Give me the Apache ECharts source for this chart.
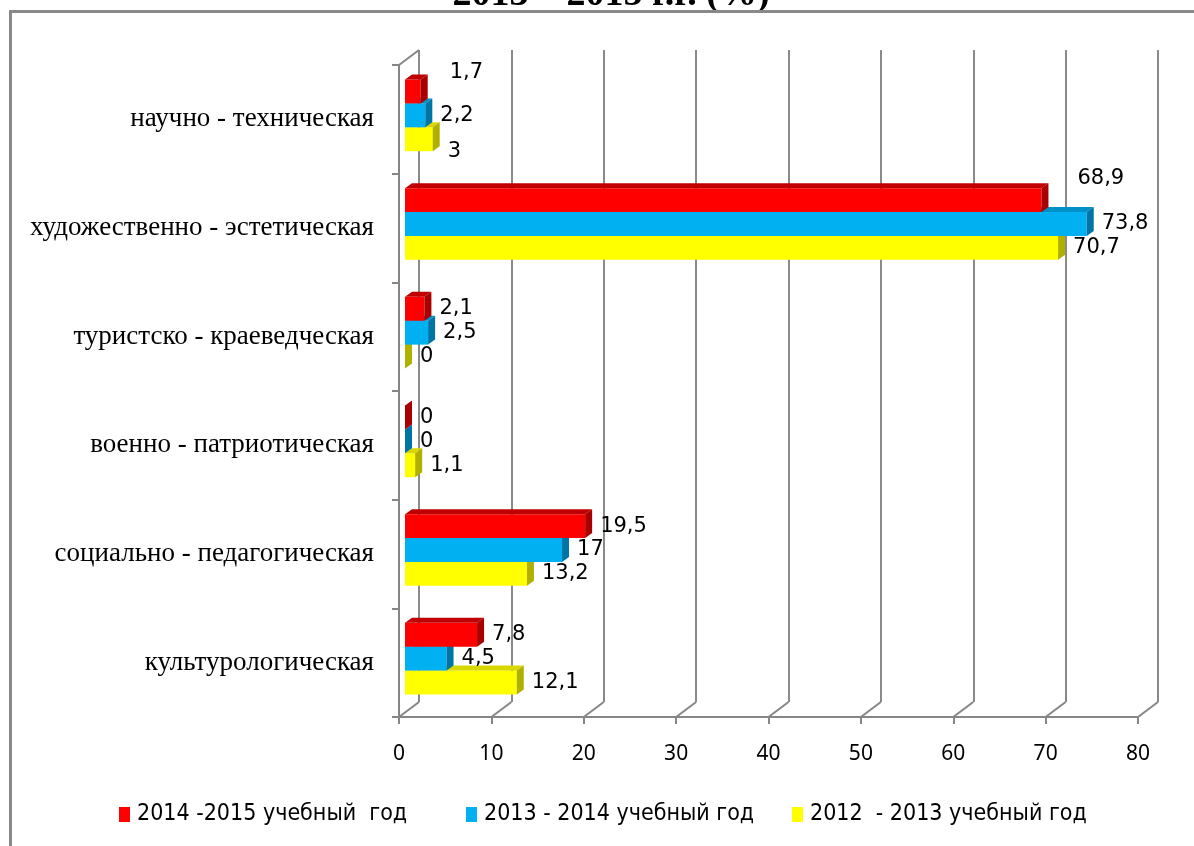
<!DOCTYPE html>
<html><head><meta charset="utf-8">
<script src="https://cdn.jsdelivr.net/npm/echarts@6/dist/echarts.min.js"></script>
<style>html,body{margin:0;padding:0;background:#fff}#c{width:1194px;height:846px}</style>
</head><body><div id="c"></div>
<script>
// ---- data ----
var categories = ['научно - техническая','художественно - эстетическая','туристско - краеведческая','военно - патриотическая','социально - педагогическая','культурологическая'];
var seriesNames = ['2014 -2015 учебный  год','2013 - 2014 учебный год','2012  - 2013 учебный год'];
var vals2014 = [1.7, 68.9, 2.1, 0, 19.5, 7.8];
var vals2013 = [2.2, 73.8, 2.5, 0, 17, 4.5];
var vals2012 = [3, 70.7, 0, 1.1, 13.2, 12.1];
var xTicks = [0,10,20,30,40,50,60,70,80];
var titleText = '2013 – 2015 г.г. (%)';

// ---- styles ----
var faceColors = [
  {front:'#FF0000', top:'#C00000', side:'#A80000'},
  {front:'#00B0F0', top:'#0090C8', side:'#0075A5'},
  {front:'#FFFF00', top:'#D8D800', side:'#B0B000'}
];
var labelNudge = {'0_0':[14,-19], '2_0':[0,12], '0_1':[21,-22]};
var legendLefts = [119, 466, 792];
var DX = 7, DY = -5, SHIFTX = 6, SHIFTY = -4;
var gray = '#868686';
var legendFont = '"DejaVu Sans Condensed", "Liberation Sans Narrow", "Liberation Sans"';

function fmt(v){ return String(v).replace('.', ','); }

function barRender(sIdx){
  return function(params, api){
    var ci = api.value(0), v = api.value(1);
    var band = api.size([0,1])[1];
    var c = api.coord([0, ci]);
    var e = api.coord([v, ci]);
    var h = band*0.22;
    var x0 = c[0]+SHIFTX, x1 = e[0]+SHIFTX;
    var y0 = c[1] - 1.5*h + sIdx*h + SHIFTY;
    var col = faceColors[sIdx];
    var nk = labelNudge[sIdx+'_'+ci] || [0,0];
    return {type:'group', children:[
      {type:'rect', shape:{x:x0, y:y0, width:x1-x0, height:h}, style:{fill:col.front}},
      {type:'polygon', shape:{points:[[x0,y0],[x1,y0],[x1+DX,y0+DY],[x0+DX,y0+DY]]}, style:{fill:col.top}},
      {type:'polygon', shape:{points:[[x1,y0],[x1+DX,y0+DY],[x1+DX,y0+h+DY],[x1,y0+h]]}, style:{fill:col.side}},
      {type:'text', x:x1+DX+8+nk[0], y:y0+h/2+nk[1], style:{text:fmt(v), fill:'#000', font:'21px "DejaVu Sans"', verticalAlign:'middle', align:'left'}}
    ]};
  };
}

function floorRender(params, api){
  var p = api.coord([api.value(0), 0]);
  var cs = params.coordSys;
  var yb = cs.y + cs.height;
  return {type:'line', shape:{x1:p[0], y1:yb, x2:p[0]+20, y2:yb-15}, style:{stroke:gray, lineWidth:2}};
}

var allVals = [vals2014, vals2013, vals2012];
var series = [];
[2,1,0].forEach(function(s){
  series.push({
    type:'custom', name:seriesNames[s], xAxisIndex:0, yAxisIndex:0, z:10+(2-s),
    itemStyle:{color:faceColors[s].front},
    renderItem:barRender(s),
    data: allVals[s].map(function(v,i){return [i, v];}),
    encode:{x:1, y:0}
  });
});
series.push({type:'custom', name:'floor', xAxisIndex:0, yAxisIndex:0, z:3, silent:true,
  renderItem:floorRender, data:xTicks.map(function(t){return [t];}), encode:{x:0}});

var legends = seriesNames.map(function(n, i){
  return {data:[n], left:legendLefts[i], top:803, padding:0, itemWidth:11, itemHeight:15, itemGap:6, icon:'rect',
    textStyle:{fontFamily:legendFont, fontSize:23, color:'#000', padding:[0,0,0,2]}};
});

var chart = echarts.init(document.getElementById('c'), null, {renderer:'canvas'});
chart.setOption({
  animation:false,
  backgroundColor:'#fff',
  title:{text:titleText, left:606, textAlign:'center', top:-29,
    textStyle:{fontFamily:'Liberation Serif', fontWeight:'bold', fontSize:38, color:'#000'}},
  legend:legends,
  grid:[
    {left:399, right:56, top:65, bottom:129},
    {left:419, right:36, top:50, bottom:144}
  ],
  xAxis:[
    {type:'value', gridIndex:0, min:0, max:80, interval:10,
      axisLine:{show:true, lineStyle:{color:gray, width:2}},
      axisTick:{show:true, length:7, lineStyle:{color:gray, width:2}},
      axisLabel:{fontFamily:'Noto Sans', fontSize:21, color:'#000', margin:27},
      splitLine:{show:false}},
    {type:'value', gridIndex:1, min:0, max:80, interval:10,
      axisLine:{show:false}, axisTick:{show:false}, axisLabel:{show:false},
      splitLine:{show:true, lineStyle:{color:'#8a8a8a', width:2}}}
  ],
  yAxis:[
    {type:'category', gridIndex:0, data:categories, inverse:true,
      axisLine:{show:true, lineStyle:{color:gray, width:2}},
      axisTick:{show:true, length:7, lineStyle:{color:gray, width:2}},
      axisLabel:{fontFamily:'Liberation Serif', fontSize:27, color:'#000', margin:25, padding:[6,0,0,0]},
      splitLine:{show:false}},
    {type:'category', gridIndex:1, data:categories, inverse:true, show:false}
  ],
  graphic:[
    {type:'rect', shape:{x:10.5, y:11.5, width:1400, height:1000}, style:{fill:null, stroke:'#898989', lineWidth:3}, z:100, silent:true},
    {type:'line', shape:{x1:399, y1:65, x2:419, y2:50}, style:{stroke:gray, lineWidth:2}, z:5}
  ],
  series:series
});
</script></body></html>
